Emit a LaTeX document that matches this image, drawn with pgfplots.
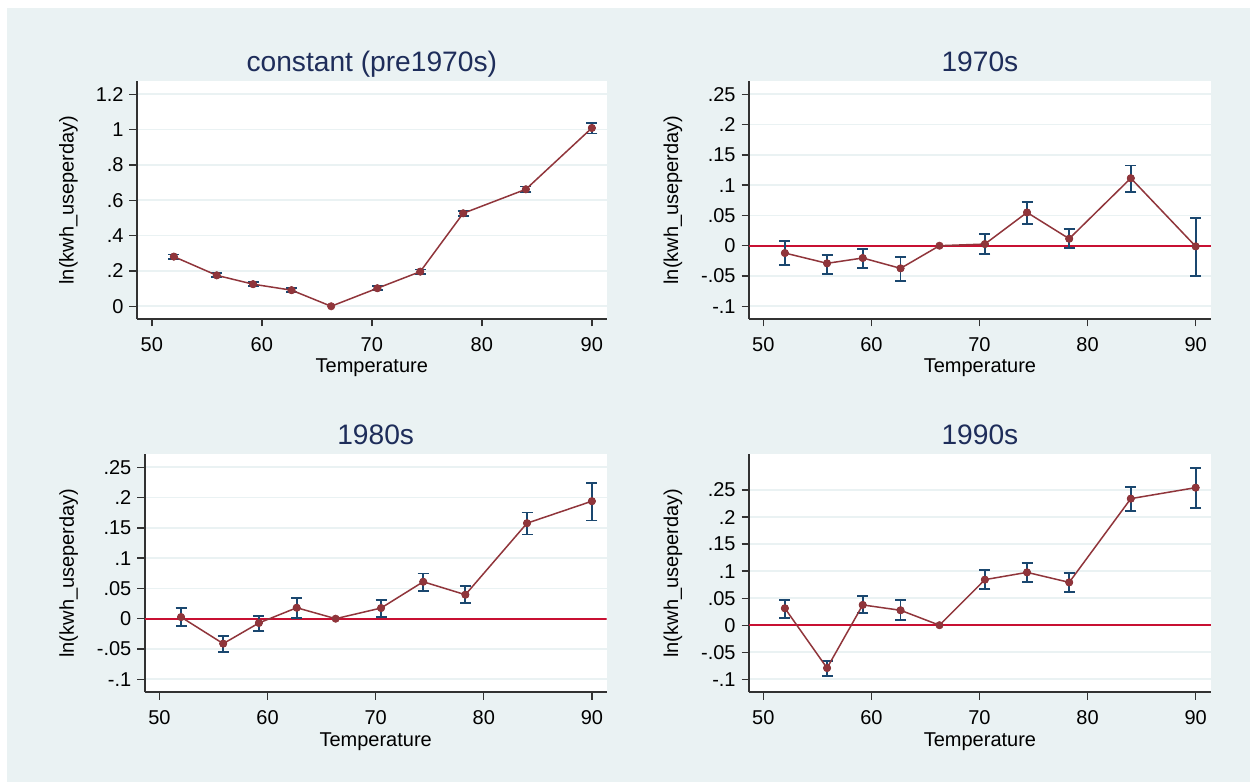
\documentclass[border=0pt]{standalone}
\usepackage{fontspec}
\setmainfont{Liberation Sans}
\usepackage{pgfplots}
\usepackage{pgfplotstable}
\pgfplotsset{compat=1.18}
\definecolor{bgc}{RGB}{234,242,243}
\definecolor{maroonc}{RGB}{144,53,59}
\definecolor{navyc}{RGB}{26,71,111}
\definecolor{zeroc}{RGB}{200,16,50}
\definecolor{titlec}{RGB}{30,45,90}
\definecolor{axisc}{RGB}{50,50,50}

\pgfplotstableread{
x y lo hi
52.0 0.281 0.269 0.293
55.9 0.175 0.164 0.186
59.2 0.125 0.114 0.136
62.7 0.091 0.080 0.102
66.3 0 0 0
70.5 0.102 0.091 0.113
74.4 0.196 0.184 0.208
78.3 0.526 0.512 0.540
84.0 0.662 0.646 0.678
90.0 1.009 0.978 1.036
}\tabA
\pgfplotstableread{
x y lo hi
52.0 -0.0121 -0.0319 0.0071
55.9 -0.0291 -0.0462 -0.0148
59.2 -0.0203 -0.0363 -0.0060
62.7 -0.0374 -0.0577 -0.0187
66.3 0 0 0
70.5 0.0027 -0.0137 0.0187
74.4 0.0549 0.0357 0.0725
78.3 0.0115 -0.0044 0.0280
84.0 0.1115 0.0885 0.1324
90.0 -0.0011 -0.0500 0.0462
}\tabB
\pgfplotstableread{
x y lo hi
52.0 0.0027 -0.0126 0.0176
55.9 -0.0412 -0.0544 -0.0286
59.2 -0.0071 -0.0209 0.0044
62.7 0.0181 0.0011 0.0335
66.3 0 0 0
70.5 0.0176 0.0033 0.0313
74.4 0.0610 0.0456 0.0747
78.3 0.0396 0.0253 0.0544
84.0 0.1577 0.1390 0.1753
90.0 0.1940 0.1621 0.2247
}\tabC
\pgfplotstableread{
x y lo hi
52.0 0.0313 0.0141 0.0467
55.9 -0.0792 -0.0946 -0.0657
59.2 0.0375 0.0221 0.0540
62.7 0.0276 0.0092 0.0467
66.3 0 0 0
70.5 0.0842 0.0670 0.1014
74.4 0.0977 0.0792 0.1149
78.3 0.0792 0.0614 0.0970
84.0 0.2340 0.2119 0.2561
90.0 0.2543 0.2168 0.2912
}\tabD

\pgfplotsset{
  stata/.style={
    scale only axis,
    anchor=south west,
    axis background/.style={fill=white},
    axis x line*=bottom,
    axis y line*=left,
    axis line style={draw=axisc, line width=1pt},
    tick align=outside,
    major tick length=4.5pt,
    tick style={draw=axisc, line width=0.8pt},
    ymajorgrids,
    grid style={draw=bgc, line width=1pt},
    xtick={50,60,70,80,90},
    xticklabels={50,60,70,80,90},
    ticklabel style={font=\fontsize{12}{14}\selectfont, text=black},
    xticklabel style={yshift=-2.8pt},
    xlabel={Temperature},
    ylabel={ln(kwh\_useperday)},
    label style={font=\fontsize{12}{14}\selectfont},
    xlabel style={at={(axis description cs:0.5,-0.226)}, anchor=base},
    every axis title shift=0pt,
    title style={at={(axis description cs:0.5,1.039)}, anchor=base,
      font=\fontsize{16.9}{19}\selectfont, text=titlec},
  },
  ebars/.style={only marks, mark=none, forget plot,
    skip coords between index={4}{5},
    error bars/.cd, y dir=both, y explicit,
    error mark=|,
    error bar style={draw=navyc, line width=1.1pt},
    error mark options={draw=navyc, mark size=3.3pt, line width=1.1pt}},
  dline/.style={draw=maroonc, line width=0.9pt, mark=*, mark size=2.2pt,
    mark options={fill=maroonc, draw=maroonc, line width=0.4pt}},
}

\begin{document}
\begin{tikzpicture}
\path[use as bounding box, fill=white] (0,0) rectangle (750pt,469.8pt);
\fill[bgc] (4.3pt,0.8pt) rectangle (750pt,465pt);

% Panel 1
\begin{axis}[stata, at={(82.2pt,278.4pt)}, width=281.76pt, height=142.8pt,
  xmin=48.65, xmax=91.34, ymin=-0.072, ymax=1.275,
  ytick={0,0.2,0.4,0.6,0.8,1,1.2},
  yticklabels={0,.2,.4,.6,.8,1,1.2},
  ylabel style={at={(axis description cs:-0.1459,0.5)}, anchor=center},
  title={constant (pre1970s)}]
\addplot[ebars] table[x=x, y=y, y error plus expr=\thisrow{hi}-\thisrow{y}, y error minus expr=\thisrow{y}-\thisrow{lo}] {\tabA};
\addplot[dline] table[x=x, y=y] {\tabA};
\end{axis}

% Panel 2
\begin{axis}[stata, at={(449.4pt,278.4pt)}, width=277.14pt, height=142.8pt,
  xmin=48.68, xmax=91.41, ymin=-0.121, ymax=0.272,
  ytick={-0.1,-0.05,0,0.05,0.1,0.15,0.2,0.25},
  yticklabels={-.1,-.05,0,.05,.1,.15,.2,.25},
  ylabel style={at={(axis description cs:-0.1645,0.5)}, anchor=center},
  title={1970s}]
\addplot[zeroc, line width=1.2pt, forget plot] coordinates {(48.68,0) (91.41,0)};
\addplot[ebars] table[x=x, y=y, y error plus expr=\thisrow{hi}-\thisrow{y}, y error minus expr=\thisrow{y}-\thisrow{lo}] {\tabB};
\addplot[dline] table[x=x, y=y] {\tabB};
\end{axis}

% Panel 3
\begin{axis}[stata, at={(86.82pt,54.42pt)}, width=277.14pt, height=143pt,
  xmin=48.64, xmax=91.36, ymin=-0.1215, ymax=0.272,
  ytick={-0.1,-0.05,0,0.05,0.1,0.15,0.2,0.25},
  yticklabels={-.1,-.05,0,.05,.1,.15,.2,.25},
  ylabel style={at={(axis description cs:-0.1645,0.5)}, anchor=center},
  title={1980s}]
\addplot[zeroc, line width=1.2pt, forget plot] coordinates {(48.64,0) (91.36,0)};
\addplot[ebars] table[x=x, y=y, y error plus expr=\thisrow{hi}-\thisrow{y}, y error minus expr=\thisrow{y}-\thisrow{lo}] {\tabC};
\addplot[dline] table[x=x, y=y] {\tabC};
\end{axis}

% Panel 4
\begin{axis}[stata, at={(449.4pt,54.42pt)}, width=277.14pt, height=143pt,
  xmin=48.68, xmax=91.41, ymin=-0.124, ymax=0.3166,
  ytick={-0.1,-0.05,0,0.05,0.1,0.15,0.2,0.25},
  yticklabels={-.1,-.05,0,.05,.1,.15,.2,.25},
  ylabel style={at={(axis description cs:-0.1645,0.5)}, anchor=center},
  title={1990s}]
\addplot[zeroc, line width=1.2pt, forget plot] coordinates {(48.68,0) (91.41,0)};
\addplot[ebars] table[x=x, y=y, y error plus expr=\thisrow{hi}-\thisrow{y}, y error minus expr=\thisrow{y}-\thisrow{lo}] {\tabD};
\addplot[dline] table[x=x, y=y] {\tabD};
\end{axis}
\end{tikzpicture}
\end{document}
